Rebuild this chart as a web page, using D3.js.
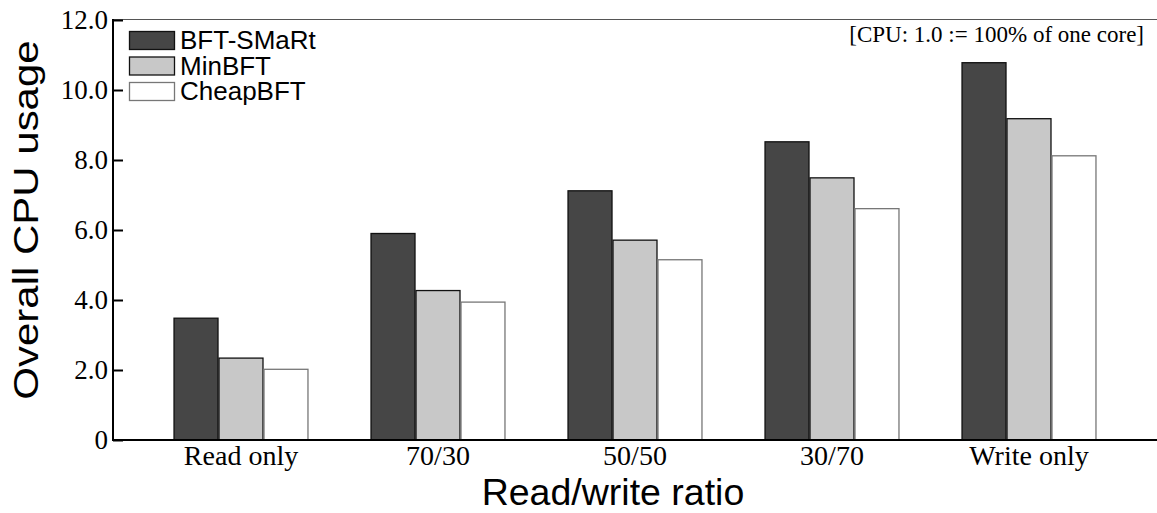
<!DOCTYPE html>
<html>
<head>
<meta charset="utf-8">
<script src="https://cdn.jsdelivr.net/npm/d3@7"></script>
<style>
  html, body { margin: 0; padding: 0; background: #fff; }
  svg { display: block; }
</style>
</head>
<body>
<svg id="chart" width="1157" height="513"></svg>
<script>
// Workload mixes on the x axis
const categories = ["Read only", "70/30", "50/50", "30/70", "Write only"];
// Protocols compared in each group
const seriesNames = ["BFT-SMaRt", "MinBFT", "CheapBFT"];
// Overall CPU usage (1.0 = one full core)
const bftSmart = [3.48, 5.90, 7.12, 8.52, 10.78];
const minBft   = [2.34, 4.27, 5.71, 7.49, 9.18];
const cheapBft = [2.02, 3.94, 5.15, 6.61, 8.12];
const yTicks = [0, 2, 4, 6, 8, 10, 12];

const seriesValues = [bftSmart, minBft, cheapBft];
const fills   = ["#464646", "#c8c8c8", "#ffffff"];
const strokes = ["#111111", "#111111", "#777777"];

const serif = "'Liberation Serif', 'Times New Roman', serif";
const sans = "'Liberation Sans', Arial, sans-serif";

const svg = d3.select("#chart");
const plotLeft = 113, plotRight = 1157, plotTop = 20, plotBottom = 440;

const x = d3.scaleBand()
  .domain(categories)
  .range([142.5, 1127.5])
  .paddingInner(0.315)
  .paddingOuter(0.1575);

const xs = d3.scaleBand()
  .domain(seriesNames)
  .range([0, x.bandwidth()]);

const y = d3.scaleLinear().domain([0, 12]).range([plotBottom, plotTop]);

// top frame line
svg.append("line")
  .attr("x1", plotLeft).attr("x2", plotRight)
  .attr("y1", plotTop - 0.5).attr("y2", plotTop - 0.5)
  .attr("stroke", "#555").attr("stroke-width", 1.2);

// bars
const rows = categories.map((c, i) => ({
  cat: c,
  vals: seriesNames.map((s, k) => ({ s, k, v: seriesValues[k][i] }))
}));

const groups = svg.append("g").selectAll("g")
  .data(rows).join("g")
  .attr("transform", d => `translate(${x(d.cat)},0)`);

groups.selectAll("rect")
  .data(d => d.vals).join("rect")
  .attr("x", d => xs(d.s) + 0.5)
  .attr("y", d => y(d.v))
  .attr("width", xs.bandwidth() - 1)
  .attr("height", d => y(0) - y(d.v))
  .attr("fill", d => fills[d.k])
  .attr("stroke", d => strokes[d.k])
  .attr("stroke-width", 1.3);

// y axis: inward ticks, serif labels
const yAxis = d3.axisRight(y)
  .tickValues(yTicks)
  .tickSize(10)
  .tickFormat(d => d === 0 ? "0" : d3.format(".1f")(d));

const ya = svg.append("g")
  .attr("transform", `translate(${plotLeft},0)`)
  .call(yAxis);
ya.select(".domain").remove();
ya.selectAll(".tick line").attr("stroke", "#000").attr("stroke-width", 2);
ya.selectAll(".tick text")
  .attr("x", -5)
  .attr("text-anchor", "end")
  .attr("dy", "0.33em")
  .attr("font-family", serif)
  .attr("font-size", 27)
  .attr("fill", "#000");

// axis lines
svg.append("line")
  .attr("x1", plotLeft).attr("x2", plotLeft)
  .attr("y1", plotTop - 1).attr("y2", plotBottom + 1)
  .attr("stroke", "#000").attr("stroke-width", 2);

// x axis
const xAxis = d3.axisBottom(x).tickSize(0).tickPadding(5);
const xa = svg.append("g")
  .attr("transform", `translate(0,${plotBottom})`)
  .call(xAxis);
xa.select(".domain").remove();
xa.selectAll(".tick text")
  .attr("font-family", serif)
  .attr("font-size", 28)
  .attr("fill", "#000");

svg.append("line")
  .attr("x1", plotLeft).attr("x2", plotRight)
  .attr("y1", plotBottom).attr("y2", plotBottom)
  .attr("stroke", "#000").attr("stroke-width", 2.2);

// axis titles
svg.append("text")
  .attr("x", 613).attr("y", 505)
  .attr("text-anchor", "middle")
  .attr("font-family", sans)
  .attr("font-size", 37.5)
  .attr("fill", "#000")
  .text("Read/write ratio");

svg.append("text")
  .attr("transform", "translate(38,220) rotate(-90) scale(1.2,1)")
  .attr("text-anchor", "middle")
  .attr("font-family", sans)
  .attr("font-size", 35)
  .attr("fill", "#000")
  .text("Overall CPU usage");

// legend
const legend = svg.append("g").attr("transform", "translate(129,31)");
const li = legend.selectAll("g").data(seriesNames).join("g")
  .attr("transform", (d, i) => `translate(0,${i * 25.5})`);
li.append("rect")
  .attr("x", 0.5).attr("y", 0.5)
  .attr("width", 45).attr("height", 18)
  .attr("fill", (d, i) => fills[i])
  .attr("stroke", (d, i) => strokes[i])
  .attr("stroke-width", 1.3);
li.append("text")
  .attr("x", 51).attr("y", 18)
  .attr("font-family", sans)
  .attr("font-size", 26)
  .attr("fill", "#000")
  .text(d => d);

// note on the CPU unit
svg.append("text")
  .attr("x", 1144).attr("y", 42)
  .attr("text-anchor", "end")
  .attr("font-family", serif)
  .attr("font-size", 23)
  .attr("fill", "#000")
  .text("[CPU: 1.0 := 100% of one core]");
</script>
</body>
</html>
